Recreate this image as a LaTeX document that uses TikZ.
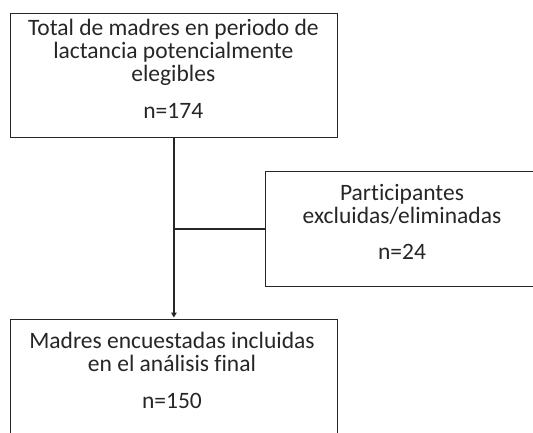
\documentclass[tikz,border=0pt]{standalone}
\usepackage{fontspec}
\setmainfont[Ligatures={NoCommon}]{Carlito}
\usetikzlibrary{arrows.meta}
\begin{document}
\begin{tikzpicture}[x=1pt,y=-1pt,
  box/.style={draw=black!85, line width=1.3pt, rectangle, inner sep=0pt, anchor=north west},
  txt/.style={align=center, font=\fontsize{23.5}{23}\selectfont, text=black!85, inner sep=0pt, anchor=base},
  conn/.style={draw=black!85, line width=1.3pt}]
\useasboundingbox (0,0) rectangle (533,432);
\clip (0,0) rectangle (533,432);
\node[box, minimum width=326.5pt, minimum height=123.5pt] (b1) at (10,13) {};
\node[box, minimum width=280pt, minimum height=115.5pt] (b2) at (265,170.5) {};
\node[box, minimum width=326.5pt, minimum height=130pt] (b3) at (10,319) {};
\node[txt] (t1) at (173.3,118) {Total de madres en periodo de\\lactancia potencialmente\\elegibles\\[14pt]n=174};
\node[txt] (t2) at (402,259) {Participantes\\excluidas/eliminadas\\[13pt]n=24};
\node[txt] (t3) at (172,408) {Madres encuestadas incluidas\\en el análisis final\\[14pt]n=150};
\draw[conn, -{Triangle[length=5pt,width=5.5pt]}, shorten >=1.5pt] (b1.south) -- (b3.north -| b1.south);
\draw[conn] (b1.south |- b2.west) -- (b2.west);
\end{tikzpicture}
\end{document}
